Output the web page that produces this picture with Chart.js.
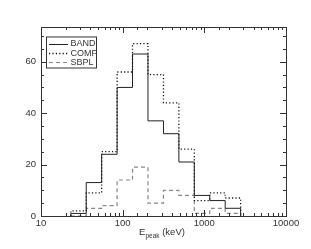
<!DOCTYPE html>
<html>
<head>
<meta charset="utf-8">
<script src="https://cdn.jsdelivr.net/npm/chart.js@4.4.0/dist/chart.umd.min.js"></script>
<style>
  html, body { margin: 0; padding: 0; background: #fff; }
  #wrap { position: relative; width: 311px; height: 249px; }
</style>
</head>
<body>
<div id="wrap"><canvas id="c" width="311" height="249"></canvas></div>
<script>
// bin edges in keV (log spaced) and counts per bin
const edges = [23.2, 35.8, 55.3, 85.5, 132, 204, 316, 488, 754, 1165, 1800, 2782]
const band = [1, 13, 24, 50, 63, 37, 32, 21, 8, 6, 3]
const comp = [2, 9, 25, 56, 67, 55, 44, 26, 6, 9, 7]
const sbpl = [0, 3, 4, 14, 19, 5, 10, 8, 1, 3, 1]
const labels = ['BAND', 'COMP', 'SBPL']
const xTickLabels = [10, 100, 1000, 10000]
const yMajor = [0, 20, 40, 60]

const ink = '#333'
const font = 'Liberation Sans, Arial, Helvetica, sans-serif'

function steps(vals) {
  const last = edges.length - 1
  const pts = [{ x: edges[0], y: 0 }]
  vals.forEach((v, i) => pts.push({ x: edges[i], y: v }))
  pts.push({ x: edges[last], y: vals[vals.length - 1] })
  pts.push({ x: edges[last], y: 0 })
  return pts
}

const styles = [
  { color: '#222', dash: [], width: 1 },
  { color: '#111', dash: [1.2, 2.2], width: 1.3 },
  { color: '#888', dash: [4, 3], width: 1.2 }
]

const series = [band, comp, sbpl]

const framePlugin = {
  id: 'frame',
  afterDraw(chart) {
    const { ctx, chartArea: a } = chart
    const xs = chart.scales.x
    const ys = chart.scales.y
    ctx.save()
    ctx.strokeStyle = ink
    ctx.lineWidth = 1
    ctx.setLineDash([])
    ctx.strokeRect(Math.round(a.left) + 0.5, Math.round(a.top) + 0.5, Math.round(a.right - a.left), Math.round(a.bottom - a.top))

    // x ticks (inward, top and bottom)
    ctx.beginPath()
    xs.ticks.forEach(t => {
      const v = t.value
      if (v < xs.min || v > xs.max) return
      const lg = Math.log10(v)
      const major = Math.abs(lg - Math.round(lg)) < 1e-6
      const len = major ? 6 : 3
      const px = Math.round(xs.getPixelForValue(v)) + 0.5
      ctx.moveTo(px, a.bottom)
      ctx.lineTo(px, a.bottom - len)
      ctx.moveTo(px, a.top)
      ctx.lineTo(px, a.top + len)
    })
    // y ticks every 5, major every 20
    for (let v = 0; v <= ys.max; v += 5) {
      const len = v % 20 === 0 ? 6 : 3
      const py = Math.round(ys.getPixelForValue(v)) + 0.5
      ctx.moveTo(a.left, py)
      ctx.lineTo(a.left + len, py)
      ctx.moveTo(a.right, py)
      ctx.lineTo(a.right - len, py)
    }
    ctx.stroke()

    // legend box
    const bx = 46, by = 36.5, bw = 50, bh = 31
    ctx.strokeStyle = ink
    ctx.strokeRect(bx + 0.5, by + 0.5, bw, bh)
    ctx.font = '9px ' + font
    ctx.textBaseline = 'middle'
    ctx.fillStyle = ink
    labels.forEach((lab, i) => {
      const y = by + 7 + i * 9.2
      const s = styles[i]
      ctx.beginPath()
      ctx.strokeStyle = s.color
      ctx.lineWidth = s.width
      ctx.setLineDash(s.dash)
      ctx.moveTo(49, Math.round(y) + 0.5)
      ctx.lineTo(68, Math.round(y) + 0.5)
      ctx.stroke()
      ctx.fillText(lab, 70.5, y + 0.5)
    })

    // x axis title with subscript
    ctx.setLineDash([])
    ctx.textBaseline = 'alphabetic'
    ctx.font = '9.5px ' + font
    const w1 = ctx.measureText('E').width
    ctx.font = '6.5px ' + font
    const w2 = ctx.measureText('peak').width
    ctx.font = '9.5px ' + font
    const w3 = ctx.measureText(' (keV)').width
    let x0 = 162 - (w1 + w2 + w3) / 2
    ctx.fillText('E', x0, 235)
    ctx.font = '6.5px ' + font
    ctx.fillText('peak', x0 + w1, 237.5)
    ctx.font = '9.5px ' + font
    ctx.fillText(' (keV)', x0 + w1 + w2, 235)
    ctx.restore()
  }
}

new Chart(document.getElementById('c'), {
  type: 'line',
  data: {
    datasets: series.map((vals, i) => ({
      label: labels[i],
      data: steps(vals),
      stepped: 'before',
      borderColor: styles[i].color,
      borderDash: styles[i].dash,
      borderWidth: styles[i].width,
      pointRadius: 0,
      fill: false,
      tension: 0
    }))
  },
  options: {
    responsive: false,
    animation: false,
    layout: { padding: { top: 27, right: 25, left: 0, bottom: 0 } },
    plugins: { legend: { display: false }, tooltip: { enabled: false } },
    scales: {
      x: {
        type: 'logarithmic',
        min: 10,
        max: 10000,
        grid: { display: false, drawTicks: false },
        border: { display: false },
        afterFit(s) { s.height = 33 },
        ticks: {
          autoSkip: false,
          maxRotation: 0,
          padding: 2,
          color: ink,
          font: { family: font, size: 9.5 },
          callback: v => xTickLabels.includes(v) ? String(v) : ''
        }
      },
      y: {
        min: 0,
        max: 73.5,
        grid: { display: false, drawTicks: false },
        border: { display: false },
        afterFit(s) { s.width = 41 },
        ticks: {
          stepSize: 20,
          includeBounds: false,
          padding: 5,
          color: ink,
          font: { family: font, size: 9.5 },
          callback: v => yMajor.includes(v) ? String(v) : ''
        }
      }
    }
  },
  plugins: [framePlugin]
})
</script>
</body>
</html>
